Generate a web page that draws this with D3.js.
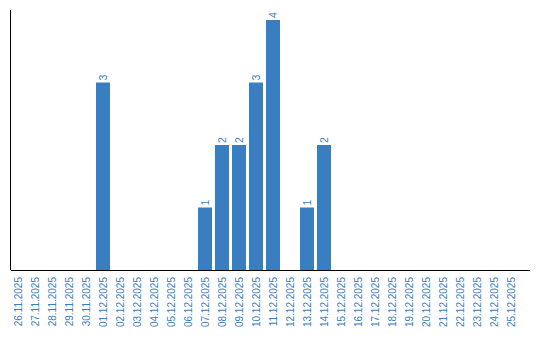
<!DOCTYPE html>
<html lang="en">
<head>
<meta charset="utf-8">
<style>
  body { margin: 0; background: white; }
  svg { display: block; font-family: 'Liberation Sans', Arial, sans-serif; }
  .bar { fill: #3a7ec2; }
  .val, .tick-label { fill: #3a7ec2; }
  .axis-line { stroke: black; stroke-width: 1; shape-rendering: crispEdges; }
</style>
</head>
<body>
<svg width="540" height="340"></svg>
<script src="https://cdnjs.cloudflare.com/ajax/libs/d3/7.8.5/d3.min.js"></script>
<script>
const dates = ["26.11.2025","27.11.2025","28.11.2025","29.11.2025","30.11.2025",
  "01.12.2025","02.12.2025","03.12.2025","04.12.2025","05.12.2025","06.12.2025",
  "07.12.2025","08.12.2025","09.12.2025","10.12.2025","11.12.2025","12.12.2025",
  "13.12.2025","14.12.2025","15.12.2025","16.12.2025","17.12.2025","18.12.2025",
  "19.12.2025","20.12.2025","21.12.2025","22.12.2025","23.12.2025","24.12.2025","25.12.2025"];
const counts = [0,0,0,0,0, 3,0,0,0,0,0, 1,2,2,3,4,0, 1,2,0,0,0,0, 0,0,0,0,0,0,0];

const svg = d3.select("svg");
const plotLeft = 10.5, plotRight = 530, plotTop = 10, plotBottom = 270;

const x = d3.scaleBand()
    .domain(dates)
    .range([9.5, 9.5 + dates.length * 17])
    .paddingInner(3 / 17)
    .paddingOuter(1.5 / 17);

const y = d3.scaleLinear()
    .domain([0, d3.max(counts) * 1.04])
    .range([plotBottom, plotTop]);

const data = dates.map((d, i) => ({date: d, value: counts[i]}));

svg.append("g").selectAll("rect")
  .data(data.filter(d => d.value > 0))
  .join("rect")
    .attr("class", "bar")
    .attr("x", d => x(d.date))
    .attr("width", x.bandwidth())
    .attr("y", d => y(d.value))
    .attr("height", d => plotBottom - y(d.value));

svg.append("g").selectAll("text")
  .data(data.filter(d => d.value > 0))
  .join("text")
    .attr("class", "val")
    .attr("font-size", 10.5)
    .attr("transform", d => `translate(${x(d.date) + x.bandwidth() / 2 + 4},${y(d.value) - 2}) rotate(-90)`)
    .text(d => d.value);

// axes
svg.append("line").attr("class", "axis-line")
  .attr("x1", plotLeft).attr("x2", plotLeft).attr("y1", plotTop).attr("y2", plotBottom);
svg.append("line").attr("class", "axis-line")
  .attr("x1", plotLeft).attr("x2", plotRight).attr("y1", plotBottom + 0.5).attr("y2", plotBottom + 0.5);

svg.append("g").selectAll("text")
  .data(dates)
  .join("text")
    .attr("class", "tick-label")
    .attr("font-size", 10)
    .attr("text-anchor", "end")
    .attr("transform", d => `translate(${x(d) + x.bandwidth() / 2 + 3.5},${plotBottom + 7}) rotate(-90)`)
    .text(d => d);
</script>
</body>
</html>
